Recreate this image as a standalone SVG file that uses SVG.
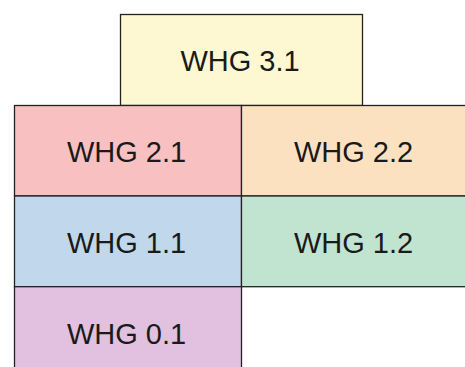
<svg xmlns="http://www.w3.org/2000/svg" width="465" height="367" viewBox="0 0 465 367">
<style>
.box{stroke:#222;stroke-width:1.3}
.lbl{font-family:"Liberation Sans",Arial,sans-serif;font-size:29px;fill:#1a1a1a;text-anchor:middle}
</style>
<rect width="465" height="367" fill="#fff"/>
<g id="whg31"><rect class="box" x="120.5" y="14.5" width="242" height="91" fill="#FDF8D2"/><text class="lbl" x="240" y="71">WHG 3.1</text></g>
<g id="whg21"><rect class="box" x="14.5" y="105.5" width="227" height="90.5" fill="#F8C0C1"/><text class="lbl" x="126.5" y="162">WHG 2.1</text></g>
<g id="whg22"><rect class="box" x="241.5" y="105.5" width="227" height="90.5" fill="#FCE1C1"/><text class="lbl" x="353.5" y="162">WHG 2.2</text></g>
<g id="whg11"><rect class="box" x="14.5" y="196" width="227" height="90.7" fill="#C1D8EC"/><text class="lbl" x="126.5" y="252.5">WHG 1.1</text></g>
<g id="whg12"><rect class="box" x="241.5" y="196" width="227" height="90.7" fill="#C0E4CF"/><text class="lbl" x="353.5" y="252.5">WHG 1.2</text></g>
<g id="whg01"><rect class="box" x="14.5" y="286.7" width="227" height="91" fill="#E1C1DF"/><text class="lbl" x="126.5" y="344">WHG 0.1</text></g>
<g id="connectors"></g>
</svg>
